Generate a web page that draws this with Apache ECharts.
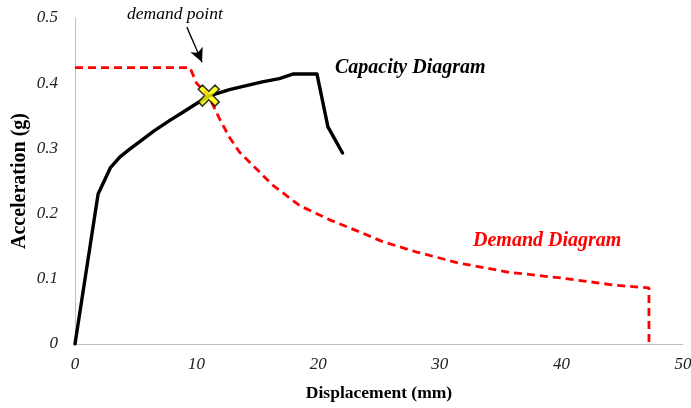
<!DOCTYPE html>
<html><head><meta charset="utf-8">
<script src="https://cdn.jsdelivr.net/npm/echarts@6/dist/echarts.min.js"></script>
<style>html,body{margin:0;padding:0;background:#fff}#c{width:691px;height:408px}</style>
</head><body><div id="c"></div>
<script>
const capacityX = [0, 1.9, 2.9, 3.7, 4.5, 5.3, 6.5, 7.8, 9.0, 10.1, 11.0, 12.7, 14.0, 15.4, 16.8, 17.9, 19.9, 20.8, 22.0];
const capacityY = [0, 0.23, 0.27, 0.287, 0.299, 0.31, 0.327, 0.343, 0.357, 0.37, 0.38, 0.39, 0.396, 0.402, 0.407, 0.414, 0.414, 0.333, 0.293];
const demandX = [0, 9.45, 10.0, 11.0, 11.9, 12.7, 13.5, 14.4, 16.3, 18.5, 21.0, 23.4, 25.3, 28.1, 31.6, 35.7, 40.1, 44.5, 47.2, 47.2];
const demandY = [0.424, 0.424, 0.40, 0.38, 0.345, 0.317, 0.295, 0.278, 0.243, 0.212, 0.19, 0.172, 0.157, 0.141, 0.124, 0.11, 0.101, 0.09, 0.086, 0];
const demandPoint = [11.0, 0.381];
const arrowFrom = [9.2, 0.486];
const arrowTo = [10.45, 0.432];
const xTicks = [0, 10, 20, 30, 40, 50];
const yTicks = [0, 0.1, 0.2, 0.3, 0.4, 0.5];

const zip = (a, b) => a.map((v, i) => [v, b[i]]);
const serif = '"Liberation Serif", "DejaVu Serif", serif';
const chart = echarts.init(document.getElementById('c'), null, {renderer: 'canvas'});
const xPath = 'path://M2,0 L5,3 L8,0 L10,2 L7,5 L10,8 L8,10 L5,7 L2,10 L0,8 L3,5 L0,2 Z';
chart.setOption({
  animation: false,
  grid: {left: 75, right: 8, top: 18, bottom: 64, containLabel: false, outerBoundsMode: 'none'},
  xAxis: {
    type: 'value', min: 0, max: 50, interval: 10,
    axisLine: {show: true, lineStyle: {color: '#bfbfbf', width: 1}},
    axisTick: {show: false}, splitLine: {show: false},
    axisLabel: {fontFamily: serif, fontStyle: 'italic', fontSize: 17, color: '#222', margin: 12,
      formatter: v => xTicks.includes(v) ? String(v) : ''},
    name: 'Displacement (mm)', nameLocation: 'middle', nameGap: 40, nameMoveOverlap: false,
    nameTextStyle: {fontFamily: serif, fontWeight: 'bold', fontSize: 17.5, color: '#000'}
  },
  yAxis: {
    type: 'value', min: 0, max: 0.5, interval: 0.1,
    axisLine: {show: true, lineStyle: {color: '#bfbfbf', width: 1}},
    axisTick: {show: false}, splitLine: {show: false},
    axisLabel: {fontFamily: serif, fontStyle: 'italic', fontSize: 17, color: '#222', margin: 17,
      formatter: v => { const t = yTicks.find(k => Math.abs(k - v) < 1e-9); return t === undefined ? '' : (t === 0 ? '0' : String(+t.toFixed(1))); }},
    name: 'Acceleration (g)', nameLocation: 'middle', nameGap: 45, nameMoveOverlap: false,
    nameTextStyle: {fontFamily: serif, fontWeight: 'bold', fontSize: 20, color: '#000'}
  },
  series: [
    {
      type: 'line', data: zip(demandX, demandY), showSymbol: false, smooth: false,
      lineStyle: {color: '#ff0000', width: 2.8, type: [8, 5]}, z: 2,
      markLine: {
        silent: true, symbol: ['none', 'arrow'], symbolSize: [10, 14],
        lineStyle: {color: '#000', width: 1.3, type: 'solid'}, label: {show: false},
        data: [[{coord: arrowFrom}, {coord: arrowTo}]]
      }
    },
    {
      type: 'line', data: zip(capacityX, capacityY), showSymbol: false, smooth: false,
      lineStyle: {color: '#000', width: 3.4, join: 'round', cap: 'round'}, z: 3
    },
    {
      type: 'scatter', data: [demandPoint], symbol: xPath, symbolSize: 21,
      itemStyle: {color: '#ffff00', borderColor: '#000', borderWidth: 1.5}, z: 5
    }
  ],
  graphic: [
    {type: 'text', left: 127, top: 5, style: {text: 'demand point', font: 'italic 17.5px ' + serif, fill: '#000'}},
    {type: 'text', left: 335, top: 58, style: {text: 'Capacity Diagram', font: 'italic bold 20px ' + serif, fill: '#000'}},
    {type: 'text', left: 473, top: 231, style: {text: 'Demand Diagram', font: 'italic bold 20px ' + serif, fill: '#ff0000'}}
  ]
});
</script></body></html>
